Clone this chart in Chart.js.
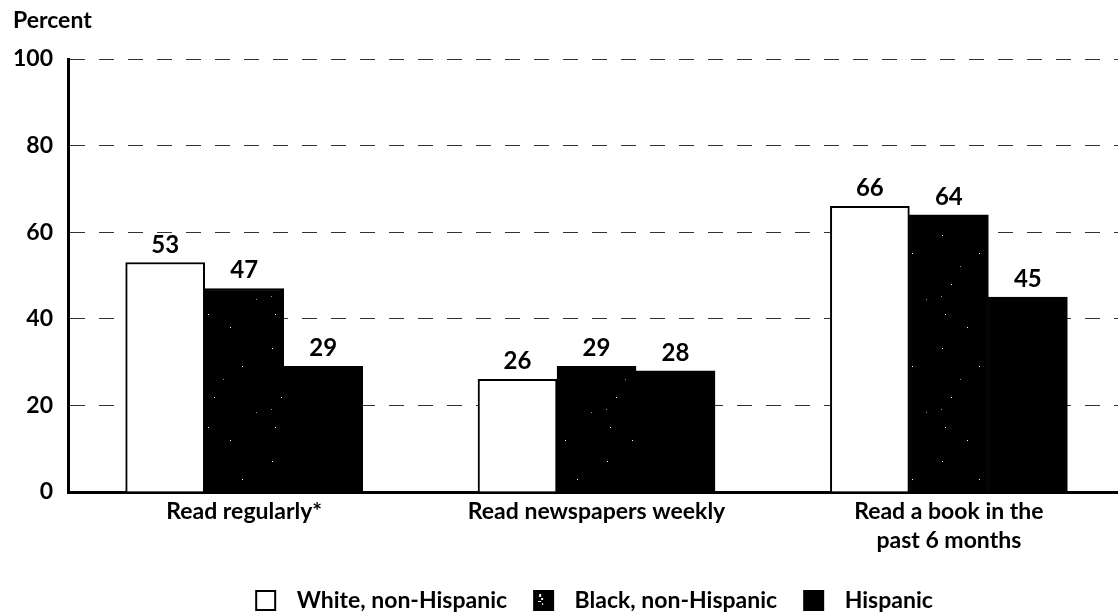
<!DOCTYPE html>
<html>
<head>
<meta charset="utf-8">
<script src="https://cdn.jsdelivr.net/npm/chart.js@4.4.1/dist/chart.umd.min.js"></script>
<style>
  html, body { margin: 0; padding: 0; background: #ffffff; }
  #wrap { width: 1118px; height: 615px; }
</style>
</head>
<body>
<div id="wrap"><canvas id="c" width="1118" height="615"></canvas></div>
<script>
// Reading habits by race/ethnicity (percent)
const categories = ['Read regularly*', 'Read newspapers weekly', ['Read a book in the', 'past 6 months']];
const seriesNames = ['White, non-Hispanic', 'Black, non-Hispanic', 'Hispanic'];
const whiteValues = [53, 26, 66];
const blackValues = [47, 29, 64];
const hispanicValues = [29, 28, 45];
const yTicks = [0, 20, 40, 60, 80, 100];

const FONT = 'Lato, "DejaVu Sans", sans-serif';

// Black fill with a sparse light speckle for the "Black, non-Hispanic" series
function speckleFill() {
  const c = document.createElement('canvas');
  c.width = 67; c.height = 113;
  const g = c.getContext('2d');
  g.fillStyle = '#000';
  g.fillRect(0, 0, c.width, c.height);
  g.fillStyle = '#ffffff';
  [[4, 9], [41, 27], [13, 58], [7, 88], [29, 101]].forEach(([x, y]) => g.fillRect(x, y, 1, 1));
  g.fillStyle = '#9a9a9a';
  [[22, 40], [55, 73], [3, 70]].forEach(([x, y]) => g.fillRect(x, y, 1, 1));
  return g.createPattern(c, 'repeat');
}

// Legend swatch: a framed square followed by a little blank space
function swatch(fill, speck) {
  const w = 32, h = 23, box = 21, lead = 2;
  const c = document.createElement('canvas');
  c.width = w; c.height = h;
  const g = c.getContext('2d');
  g.fillStyle = fill;
  g.fillRect(lead, 1, box, box);
  if (speck) {
    g.fillStyle = '#ffffff';
    g.fillRect(lead + 6, 5, 2, 3);
    g.fillRect(lead + 8, 9, 2, 2);
    g.fillRect(lead + 5, 12, 3, 1);
    g.fillRect(lead + 9, 14, 1, 2);
  }
  g.strokeStyle = '#000';
  g.lineWidth = 2;
  g.strokeRect(lead + 1, 2, box - 2, box - 2);
  return c;
}

const fills = ['#ffffff', speckleFill(), '#000000'];
const swatches = [swatch('#ffffff', false), swatch('#000000', true), swatch('#000000', false)];
const allValues = [whiteValues, blackValues, hispanicValues];

const datasets = allValues.map((vals, s) => ({
  label: seriesNames[s],
  data: vals.map((v, i) => ({ x: i + 1, y: v })),
  backgroundColor: fills[s],
  borderColor: '#000000',
  borderWidth: 2,
  barThickness: 79
}));

// Value labels above bars, plus the y-axis caption
const annotate = {
  id: 'annotate',
  afterDatasetsDraw(chart) {
    const ctx = chart.ctx;
    ctx.save();
    ctx.fillStyle = '#000';
    ctx.font = '700 24px ' + FONT;
    ctx.textAlign = 'center';
    ctx.textBaseline = 'alphabetic';
    chart.data.datasets.forEach((ds, di) => {
      const meta = chart.getDatasetMeta(di);
      meta.data.forEach((bar, i) => {
        ctx.fillText(String(ds.data[i].y), bar.x, bar.y - 10);
      });
    });
    ctx.font = '700 23px ' + FONT;
    ctx.textAlign = 'left';
    ctx.fillText('Percent', 13, 28);
    ctx.restore();
  }
};

new Chart(document.getElementById('c'), {
  type: 'bar',
  data: { datasets },
  plugins: [annotate],
  options: {
    responsive: false,
    animation: false,
    devicePixelRatio: 1,
    layout: { padding: { top: 59, left: 0, right: 0, bottom: -7 } },
    scales: {
      x: {
        type: 'linear',
        offset: false,
        min: 0.5,
        max: 3.48,
        grid: { display: false, drawTicks: false, offset: false },
        border: { display: true, color: '#000', width: 3 },
        afterBuildTicks(scale) {
          scale.ticks = categories.map((c, i) => ({ value: i + 1 }));
        },
        afterFit(scale) { scale.height = 73; },
        ticks: {
          autoSkip: false,
          maxRotation: 0,
          padding: 5,
          color: '#000',
          font: { family: FONT, size: 23, weight: '700', lineHeight: 1.25 },
          callback: (v) => categories[Math.round(v) - 1]
        }
      },
      y: {
        min: 0,
        max: 100,
        afterBuildTicks(scale) {
          scale.ticks = yTicks.map(v => ({ value: v }));
        },
        afterFit(scale) { scale.width = 68; },
        grid: {
          drawTicks: false,
          color: (ctx) => ctx.tick && ctx.tick.value === 0 ? 'rgba(0,0,0,0)' : '#333',
          lineWidth: 1
        },
        border: { display: true, color: '#000', width: 3, dash: [15, 14] },
        ticks: {
          padding: 15,
          color: '#000',
          font: { family: FONT, size: 23, weight: '700' }
        }
      }
    },
    plugins: {
      title: { display: false },
      tooltip: { enabled: false },
      legend: {
        display: true,
        position: 'bottom',
        fullSize: false,
        labels: {
          usePointStyle: true,
          pointStyleWidth: 32,
          boxHeight: 23,
          padding: 24,
          color: '#000',
          font: { family: FONT, size: 23, weight: '700' },
          generateLabels(chart) {
            const items = Chart.defaults.plugins.legend.labels.generateLabels(chart);
            items.forEach((it, i) => { it.pointStyle = swatches[i]; });
            return items;
          }
        }
      }
    }
  }
});
</script>
</body>
</html>
